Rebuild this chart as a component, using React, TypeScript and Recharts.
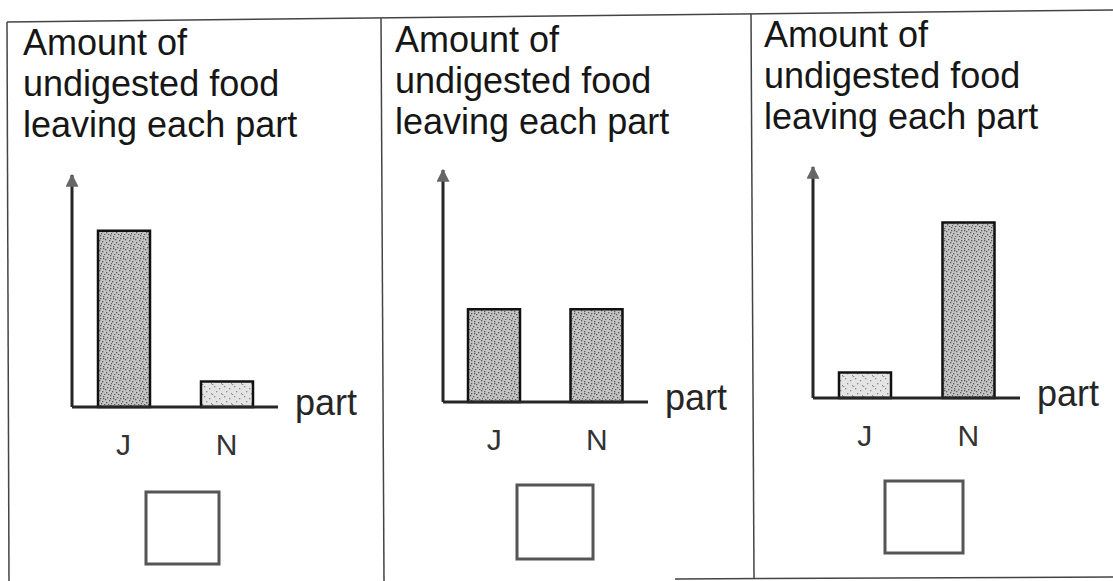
import { BarChart, Bar, XAxis, YAxis, Cell } from "recharts";

// categories on the x axis
const parts = ["J", "N"];
// amount of undigested food leaving each part, one array per panel (0-100 scale)
const panelA = [76, 11];
const panelB = [40, 40];
const panelC = [11, 76];
const titleLines = ["Amount of", "undigested food", "leaving each part"];
const axisName = "part";

const FONT = '"Liberation Sans", Arial, Helvetica, sans-serif';
const PAD_L = 10;
const PAD_T = 20;
const PAD_R = 90;
const AXIS_H = 60;

function renderPart(props: any) {
  const vb = props.viewBox || {};
  return (
    <text
      x={vb.x + vb.width + 17}
      y={vb.y + 8}
      fontSize={36}
      fontFamily={FONT}
      fill="#262626"
    >
      {axisName}
    </text>
  );
}

function Panel({ values, left, top, plotW, plotH }: { values: number[]; left: number; top: number; plotW: number; plotH: number }) {
  const data = parts.map((part, i) => ({ part, amount: values[i] }));
  return (
    <div style={{ position: "absolute", left: left - PAD_L, top: top - PAD_T }}>
      <BarChart
        width={PAD_L + plotW + PAD_R}
        height={PAD_T + plotH + AXIS_H}
        data={data}
        margin={{ top: PAD_T, right: PAD_R, left: 0, bottom: 0 }}
      >
        <YAxis
          width={PAD_L}
          domain={[0, 100]}
          tick={false}
          tickLine={false}
          axisLine={{ stroke: "#262626", strokeWidth: 3, markerStart: "url(#arrowUp)" } as any}
        />
        <XAxis
          dataKey="part"
          height={AXIS_H}
          interval={0}
          tickLine={false}
          tickSize={6}
          tickMargin={21}
          tick={{ fontSize: 30, fill: "#333", fontFamily: FONT }}
          axisLine={{ stroke: "#262626", strokeWidth: 3 }}
          label={renderPart}
        />
        <Bar dataKey="amount" barSize={52} stroke="#111" strokeWidth={2.5} isAnimationActive={false}>
          {data.map((d, i) => (
            <Cell key={i} fill={d.amount >= 30 ? "url(#stippleDense)" : "url(#stippleLight)"} />
          ))}
        </Bar>
      </BarChart>
    </div>
  );
}

function Title({ left, top }: { left: number; top: number }) {
  return (
    <div
      style={{
        position: "absolute",
        left,
        top,
        fontFamily: FONT,
        fontSize: 36,
        lineHeight: "41px",
        color: "#161616",
        whiteSpace: "nowrap",
      }}
    >
      {titleLines.map((t) => (
        <div key={t}>{t}</div>
      ))}
    </div>
  );
}

const denseDots = [
  [1, 1], [5, 2], [8, 0], [3, 4], [7, 5], [0, 6], [4, 7], [9, 8], [2, 9], [6, 9], [8, 3], [1, 3],
];
const lightDots = [
  [2, 1], [7, 3], [4, 6], [9, 8], [0, 9],
];

export default function App() {
  return (
    <div style={{ position: "absolute", left: 0, top: 0, width: 1113, height: 581, background: "#fff", overflow: "hidden" }}>
      <svg width={0} height={0} style={{ position: "absolute" }}>
        <defs>
          <marker
            id="arrowUp"
            viewBox="0 0 10 10"
            refX={9}
            refY={5}
            markerWidth={16}
            markerHeight={13}
            markerUnits="userSpaceOnUse"
            orient="auto-start-reverse"
          >
            <path d="M0,0 L10,5 L0,10 z" fill="#666" />
          </marker>
          <pattern id="stippleDense" width={10} height={10} patternUnits="userSpaceOnUse">
            <rect width={10} height={10} fill="#c4c4c4" />
            {denseDots.map(([x, y], i) => (
              <rect key={i} x={x} y={y} width={1.3} height={1.3} fill="#5a5a5a" />
            ))}
          </pattern>
          <pattern id="stippleLight" width={10} height={10} patternUnits="userSpaceOnUse">
            <rect width={10} height={10} fill="#e4e4e4" />
            {lightDots.map(([x, y], i) => (
              <rect key={i} x={x} y={y} width={1.3} height={1.3} fill="#8a8a8a" />
            ))}
          </pattern>
        </defs>
      </svg>

      <svg width={1113} height={581} style={{ position: "absolute", left: 0, top: 0 }}>
        <g stroke="#444" strokeWidth={1.5} fill="none">
          <line x1={7} y1={22} x2={1113} y2={10} />
          <line x1={7} y1={22} x2={9} y2={581} />
          <line x1={381} y1={18} x2={384} y2={581} />
          <line x1={751} y1={14} x2={754} y2={578} />
          <line x1={675} y1={579} x2={1113} y2={577} />
        </g>
        <g stroke="#555" strokeWidth={3} fill="none">
          <rect x={146} y={492} width={73} height={72} />
          <rect x={517} y={485} width={76} height={74} />
          <rect x={885} y={481} width={78} height={72} />
        </g>
      </svg>

      <Title left={23} top={22} />
      <Title left={395} top={19} />
      <Title left={764} top={14} />

      <Panel values={panelA} left={72} top={175} plotW={206} plotH={232} />
      <Panel values={panelB} left={443} top={170} plotW={205} plotH={232} />
      <Panel values={panelC} left={813} top={167} plotW={207} plotH={231} />
    </div>
  );
}
